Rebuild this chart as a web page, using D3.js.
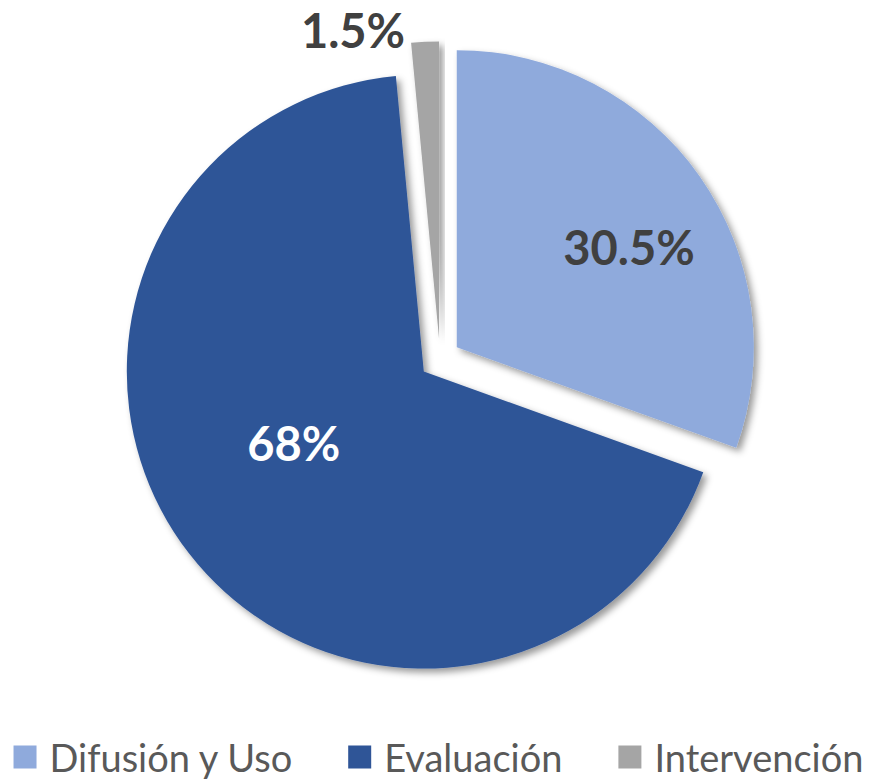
<!DOCTYPE html>
<meta charset="utf-8">
<style>
body{ margin:0; background:#fff; }
text{ font-family: Lato, "Open Sans", sans-serif; }
.lbl{ font-weight:bold; font-size:47px; }
.legend text{ font-size:38px; fill:#595959; }
</style>
<body>
<script src="https://d3js.org/d3.v7.min.js"></script>
<script>

var categories = ["Difusión y Uso", "Evaluación", "Intervención"];
var values = [30.5, 68, 1.5];
var labels = ["30.5%", "68%", "1.5%"];
var colors = ["#8FAADC", "#2F5597", "#A5A5A5"];

var W = 881, H = 780;
var cx = 440, cy = 359, R = 297, explode = 20.5;

var svg = d3.select("body").append("svg").attr("width", W).attr("height", H);

var defs = svg.append("defs");
var f = defs.append("filter").attr("id","shadow")
  .attr("x","-20%").attr("y","-20%").attr("width","140%").attr("height","140%");
f.append("feDropShadow").attr("dx",4).attr("dy",4).attr("stdDeviation",3.5)
  .attr("flood-color","#000").attr("flood-opacity",0.4);

var pie = d3.pie().sort(null).value(d=>d.v);
var arcs = pie(values.map((v,i)=>({v:v, i:i})));
var arc = d3.arc().innerRadius(0).outerRadius(R);

function offset(d, dist, shift){
  var a = (d.startAngle + d.endAngle)/2 + (shift||0);
  return [Math.sin(a)*dist, -Math.cos(a)*dist];
}

var g = svg.append("g").attr("transform","translate("+cx+","+cy+")");

var slices = g.selectAll(".slice").data(arcs).enter().append("g")
  .attr("class","slice")
  .attr("transform", d=>{ var o = offset(d, explode); return "translate("+o[0]+","+o[1]+")"; });

slices.append("path")
  .attr("d", arc)
  .attr("fill", d=>colors[d.data.i])
  .attr("filter","url(#shadow)");

// inside labels: radius fraction + small angle shift (degrees)
var labelPos = [[0.67, 5], [0.5, 9], null];
var labelColor = ["#404040", "#ffffff", "#404040"];

slices.each(function(d){
  var s = d3.select(this), i = d.data.i, p = labelPos[i];
  if(p){
    var o = offset(d, p[0]*R, p[1]*Math.PI/180);
    s.append("text").attr("class","lbl")
      .attr("x", o[0]).attr("y", o[1])
      .attr("text-anchor","middle").attr("dominant-baseline","central")
      .attr("fill", labelColor[i]).text(labels[i]);
  } else {
    // outside label, left of the slice's outer edge
    var a = d.startAngle;
    var x = Math.sin(a)*R, y = -Math.cos(a)*R;
    s.append("text").attr("class","lbl")
      .attr("x", x - 6).attr("y", y - 13)
      .attr("text-anchor","end").attr("dominant-baseline","central")
      .attr("fill", labelColor[i]).text(labels[i]);
  }
});

// legend
var lg = svg.append("g").attr("class","legend");
var box = 23, gapText = 13, gapItem = 56, ly = 757;
var items = lg.selectAll("g").data(categories).enter().append("g");
items.append("rect").attr("width",box).attr("height",box).attr("y", ly - box/2)
  .attr("fill",(d,i)=>colors[i]);
items.append("text").attr("x", box + gapText).attr("y", ly)
  .attr("dominant-baseline","central").text(d=>d);

var xs = 0, widths = [];
items.each(function(){ widths.push(box + gapText + d3.select(this).select("text").node().getComputedTextLength()); });
var total = d3.sum(widths) + gapItem*(widths.length-1);
xs = (W - total)/2 - 2;
items.attr("transform", function(d,i){ var x = xs; xs += widths[i] + gapItem; return "translate("+x+",0)"; });

</script>
</body>
</html>
